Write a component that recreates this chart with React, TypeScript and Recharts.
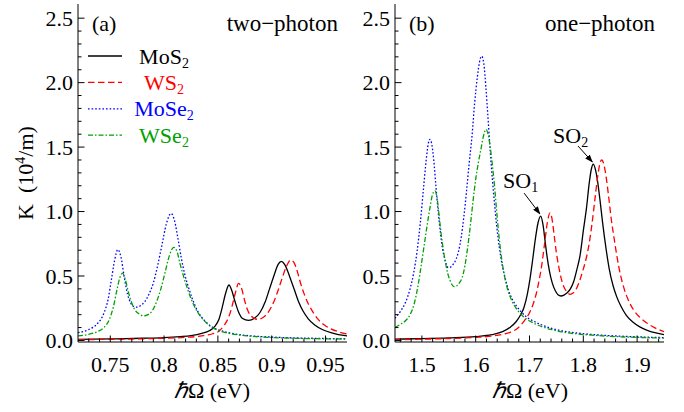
import { LineChart, Line, XAxis, YAxis, ReferenceLine } from "recharts"

const serif = '"Liberation Serif", "Times New Roman", serif'

// panel (a), two-photon: [ħΩ (eV), K (10^4/m)]
const tpMoS2: [number, number][] = [
  [0.72, 0.008], [0.75, 0.012], [0.78, 0.017], [0.8, 0.022], [0.815, 0.03], [0.825, 0.038],
  [0.835, 0.055], [0.842, 0.075], [0.847, 0.108], [0.851, 0.165], [0.854, 0.255], [0.857, 0.36],
  [0.8603, 0.43], [0.863, 0.385], [0.866, 0.3], [0.869, 0.225], [0.873, 0.17], [0.8785, 0.155],
  [0.884, 0.172], [0.889, 0.215], [0.894, 0.3], [0.898, 0.4], [0.902, 0.5], [0.906, 0.59],
  [0.909, 0.614], [0.912, 0.59], [0.915, 0.535], [0.918, 0.465], [0.921, 0.395], [0.925, 0.3],
  [0.929, 0.23], [0.934, 0.168], [0.94, 0.12], [0.947, 0.085], [0.955, 0.06], [0.962, 0.045],
  [0.97, 0.035],
]
const tpWS2: [number, number][] = [
  [0.72, 0.006], [0.75, 0.009], [0.78, 0.013], [0.8, 0.017], [0.82, 0.024], [0.835, 0.035],
  [0.845, 0.052], [0.851, 0.072], [0.856, 0.12], [0.86, 0.18], [0.863, 0.26], [0.866, 0.36],
  [0.8693, 0.443], [0.872, 0.405], [0.875, 0.305], [0.878, 0.228], [0.882, 0.182], [0.887, 0.164],
  [0.892, 0.178], [0.897, 0.222], [0.902, 0.3], [0.906, 0.39], [0.91, 0.49], [0.914, 0.58],
  [0.9177, 0.624], [0.921, 0.6], [0.924, 0.53], [0.927, 0.44], [0.93, 0.365], [0.934, 0.285],
  [0.938, 0.225], [0.943, 0.165], [0.949, 0.12], [0.955, 0.09], [0.962, 0.068], [0.97, 0.05],
]
const tpMoSe2: [number, number][] = [
  [0.72, 0.06], [0.73, 0.085], [0.738, 0.13], [0.744, 0.21], [0.748, 0.32], [0.751, 0.47],
  [0.754, 0.62], [0.757, 0.705], [0.76, 0.645], [0.763, 0.49], [0.766, 0.36], [0.769, 0.29],
  [0.772, 0.262], [0.775, 0.258], [0.778, 0.27], [0.782, 0.3], [0.786, 0.36], [0.79, 0.445],
  [0.794, 0.58], [0.798, 0.74], [0.802, 0.9], [0.8065, 0.985], [0.81, 0.92], [0.813, 0.785],
  [0.816, 0.64], [0.819, 0.52], [0.822, 0.43], [0.826, 0.33], [0.831, 0.23], [0.837, 0.16],
  [0.844, 0.108], [0.852, 0.078], [0.86, 0.06], [0.87, 0.045], [0.885, 0.033], [0.9, 0.026],
  [0.92, 0.02], [0.945, 0.016], [0.97, 0.013],
]
const tpWSe2: [number, number][] = [
  [0.72, 0.035], [0.73, 0.048], [0.738, 0.068], [0.744, 0.1], [0.749, 0.16], [0.753, 0.265],
  [0.756, 0.385], [0.759, 0.49], [0.7615, 0.522], [0.764, 0.47], [0.767, 0.37], [0.77, 0.29],
  [0.773, 0.236], [0.777, 0.205], [0.781, 0.19], [0.785, 0.2], [0.789, 0.23], [0.793, 0.3],
  [0.797, 0.4], [0.801, 0.53], [0.805, 0.66], [0.809, 0.722], [0.812, 0.69], [0.815, 0.59],
  [0.818, 0.5], [0.821, 0.42], [0.825, 0.325], [0.83, 0.235], [0.836, 0.165], [0.843, 0.11],
  [0.851, 0.076], [0.86, 0.056], [0.87, 0.042], [0.885, 0.03], [0.9, 0.023], [0.92, 0.017],
  [0.945, 0.013], [0.97, 0.011],
]

// panel (b), one-photon
const opMoS2: [number, number][] = [
  [1.45, 0.01], [1.5, 0.014], [1.55, 0.02], [1.6, 0.03], [1.63, 0.045], [1.65, 0.068],
  [1.665, 0.105], [1.675, 0.145], [1.683, 0.195], [1.69, 0.26], [1.696, 0.36], [1.701, 0.48],
  [1.706, 0.63], [1.711, 0.79], [1.716, 0.915], [1.7208, 0.965], [1.725, 0.9], [1.729, 0.77],
  [1.733, 0.64], [1.737, 0.54], [1.742, 0.45], [1.748, 0.385], [1.753, 0.355], [1.7586, 0.345],
  [1.764, 0.352], [1.77, 0.37], [1.776, 0.4], [1.782, 0.455], [1.788, 0.55], [1.794, 0.66],
  [1.8, 0.85], [1.806, 1.03], [1.811, 1.22], [1.815, 1.33], [1.8186, 1.368], [1.822, 1.335],
  [1.826, 1.25], [1.831, 1.09], [1.836, 0.91], [1.842, 0.72], [1.848, 0.56], [1.855, 0.43],
  [1.862, 0.34], [1.87, 0.265], [1.88, 0.195], [1.892, 0.143], [1.905, 0.105], [1.92, 0.077],
  [1.935, 0.058], [1.95, 0.045],
]
const opWS2: [number, number][] = [
  [1.45, 0.006], [1.5, 0.01], [1.55, 0.015], [1.6, 0.024], [1.63, 0.034], [1.65, 0.048],
  [1.665, 0.065], [1.678, 0.095], [1.69, 0.15], [1.7, 0.215], [1.707, 0.285], [1.713, 0.37],
  [1.718, 0.47], [1.723, 0.59], [1.728, 0.75], [1.733, 0.91], [1.7381, 0.99], [1.742, 0.94],
  [1.746, 0.81], [1.75, 0.68], [1.754, 0.58], [1.759, 0.48], [1.764, 0.415], [1.77, 0.375],
  [1.7753, 0.358], [1.781, 0.368], [1.787, 0.4], [1.793, 0.46], [1.799, 0.54], [1.805, 0.63],
  [1.81, 0.73], [1.816, 0.9], [1.822, 1.11], [1.827, 1.28], [1.831, 1.375], [1.8342, 1.4],
  [1.838, 1.37], [1.842, 1.28], [1.847, 1.12], [1.852, 0.94], [1.857, 0.8], [1.863, 0.64],
  [1.869, 0.51], [1.876, 0.4], [1.884, 0.31], [1.893, 0.24], [1.905, 0.18], [1.918, 0.135],
  [1.933, 0.098], [1.95, 0.068],
]
const opMoSe2: [number, number][] = [
  [1.45, 0.172], [1.46, 0.225], [1.47, 0.3], [1.478, 0.4], [1.485, 0.53], [1.491, 0.69],
  [1.497, 0.91], [1.503, 1.18], [1.508, 1.4], [1.512, 1.53], [1.515, 1.56], [1.518, 1.53],
  [1.522, 1.4], [1.526, 1.2], [1.53, 1.01], [1.534, 0.85], [1.538, 0.72], [1.542, 0.64],
  [1.546, 0.585], [1.549, 0.564], [1.553, 0.568], [1.558, 0.59], [1.563, 0.625], [1.568, 0.69],
  [1.573, 0.8], [1.578, 0.96], [1.583, 1.16], [1.588, 1.38], [1.593, 1.58], [1.598, 1.84],
  [1.603, 2.04], [1.607, 2.16], [1.611, 2.205], [1.615, 2.15], [1.619, 1.96], [1.623, 1.72],
  [1.627, 1.47], [1.631, 1.25], [1.635, 1.06], [1.639, 0.89], [1.644, 0.72], [1.649, 0.59],
  [1.655, 0.48], [1.661, 0.39], [1.668, 0.32], [1.676, 0.265], [1.685, 0.22], [1.695, 0.18],
  [1.705, 0.155], [1.72, 0.125], [1.74, 0.095], [1.76, 0.075], [1.79, 0.057], [1.82, 0.045],
  [1.86, 0.035], [1.9, 0.028], [1.95, 0.022],
]
const opWSe2: [number, number][] = [
  [1.45, 0.1], [1.46, 0.125], [1.47, 0.155], [1.478, 0.2], [1.486, 0.29], [1.493, 0.43],
  [1.499, 0.59], [1.505, 0.76], [1.51, 0.9], [1.515, 1.03], [1.519, 1.12], [1.5243, 1.161],
  [1.528, 1.11], [1.532, 0.97], [1.536, 0.82], [1.54, 0.7], [1.544, 0.6], [1.548, 0.52],
  [1.552, 0.47], [1.556, 0.432], [1.5603, 0.417], [1.565, 0.425], [1.57, 0.448], [1.575, 0.49],
  [1.58, 0.58], [1.585, 0.72], [1.59, 0.89], [1.595, 1.08], [1.6, 1.25], [1.605, 1.38],
  [1.61, 1.49], [1.6141, 1.58], [1.6191, 1.637], [1.623, 1.6], [1.627, 1.5], [1.631, 1.36],
  [1.635, 1.2], [1.639, 1.0], [1.643, 0.82], [1.648, 0.64], [1.654, 0.49], [1.66, 0.385],
  [1.667, 0.31], [1.675, 0.25], [1.685, 0.2], [1.695, 0.165], [1.705, 0.14], [1.72, 0.112],
  [1.74, 0.085], [1.76, 0.066], [1.79, 0.05], [1.82, 0.04], [1.86, 0.03], [1.9, 0.024],
  [1.95, 0.018],
]

const tpXTicks = [0.73, 0.74, 0.75, 0.76, 0.77, 0.78, 0.79, 0.8, 0.81, 0.82, 0.83, 0.84, 0.85, 0.86, 0.87, 0.88, 0.89, 0.9, 0.91, 0.92, 0.93, 0.94, 0.95, 0.96]
const tpXMajor = [0.75, 0.8, 0.85, 0.9, 0.95]
const tpXLabels = ["0.75", "0.8", "0.85", "0.9", "0.95"]
const opXTicks = [1.46, 1.48, 1.5, 1.52, 1.54, 1.56, 1.58, 1.6, 1.62, 1.64, 1.66, 1.68, 1.7, 1.72, 1.74, 1.76, 1.78, 1.8, 1.82, 1.84, 1.86, 1.88, 1.9, 1.92, 1.94]
const opXMajor = [1.5, 1.6, 1.7, 1.8, 1.9]
const opXLabels = ["1.5", "1.6", "1.7", "1.8", "1.9"]
const yTicks = [0, 0.1, 0.2, 0.3, 0.4, 0.5, 0.6, 0.7, 0.8, 0.9, 1, 1.1, 1.2, 1.3, 1.4, 1.5, 1.6, 1.7, 1.8, 1.9, 2, 2.1, 2.2, 2.3, 2.4, 2.5]
const yMajor = [0, 0.5, 1, 1.5, 2, 2.5]
const yLabels = ["0.0", "0.5", "1.0", "1.5", "2.0", "2.5"]
const yDomain = [-0.012, 2.61]

// peak arrows in panel (b): [x, y] start -> tip
const soArrows = [
  [[1.69, 1.143], [1.7195, 0.981]],
  [[1.7902, 1.508], [1.8171, 1.384]],
]

const materials = [
  { name: "MoS", color: "#000000", dash: undefined },
  { name: "WS", color: "#ff0000", dash: "6.5 3.5" },
  { name: "MoSe", color: "#0000ff", dash: "1.6 2" },
  { name: "WSe", color: "#00a000", dash: "5 2 1.5 2" },
]

const toRows = (pts: [number, number][]) => pts.map(([x, y]) => ({ x, y }))

const frameTick =
  (side: string, major: number[], labels: string[] | null, gap: number) => (props: any) => {
    const { x, y, payload } = props
    const i = major.findIndex((m) => Math.abs(m - payload.value) < 1e-9)
    const len = i >= 0 ? 6.5 : 3.5
    let mark
    if (side === "left") mark = <line x1={x + gap} x2={x + gap + len} y1={y} y2={y} stroke="#000" />
    else if (side === "right") mark = <line x1={x - gap} x2={x - gap - len} y1={y} y2={y} stroke="#000" />
    else if (side === "bottom") mark = <line x1={x} x2={x} y1={y - gap} y2={y - gap - len} stroke="#000" />
    else mark = <line x1={x} x2={x} y1={y + gap} y2={y + gap + len} stroke="#000" />
    const text =
      labels && i >= 0 ? (
        <text
          x={x}
          y={y}
          dy={side === "left" ? "0.35em" : "0.71em"}
          textAnchor={side === "left" ? "end" : "middle"}
          fontFamily={serif}
          fontSize={22}
          fill="#000"
        >
          {labels[i]}
        </text>
      ) : null
    return (
      <g>
        {mark}
        {text}
      </g>
    )
  }

function Panel(props: {
  series: [number, number][][]
  xDomain: number[]
  xTicks: number[]
  xMajor: number[]
  xLabels: string[]
  width: number
  left: number
  right: number
  arrows?: number[][][]
}) {
  const { series, xDomain, xTicks, xMajor, xLabels, width, left, right, arrows } = props
  return (
    <LineChart width={width} height={412} margin={{ top: 4, right, bottom: 30, left }}>
      <defs>
        <marker id="soHead" markerWidth="8" markerHeight="6" refX="7.5" refY="3" orient="auto" markerUnits="userSpaceOnUse">
          <path d="M0,0 L8,3 L0,6 z" fill="#000" />
        </marker>
      </defs>
      <XAxis
        xAxisId="b"
        type="number"
        dataKey="x"
        domain={xDomain}
        allowDataOverflow
        ticks={xTicks}
        interval={0}
        tickSize={0}
        tickMargin={14}
        tickLine={false}
        axisLine={{ stroke: "#000" }}
        height={40}
        tick={frameTick("bottom", xMajor, xLabels, 14)}
      />
      <XAxis
        xAxisId="t"
        orientation="top"
        type="number"
        dataKey="x"
        domain={xDomain}
        allowDataOverflow
        ticks={xTicks}
        interval={0}
        tickSize={0}
        tickMargin={0}
        tickLine={false}
        axisLine={{ stroke: "#000" }}
        height={0}
        tick={frameTick("top", xMajor, null, 0)}
      />
      <YAxis
        yAxisId="l"
        type="number"
        domain={yDomain}
        allowDataOverflow
        ticks={yTicks}
        interval={0}
        tickSize={0}
        tickMargin={5}
        tickLine={false}
        axisLine={{ stroke: "#000" }}
        width={50}
        tick={frameTick("left", yMajor, yLabels, 5)}
      />
      <YAxis
        yAxisId="r"
        orientation="right"
        type="number"
        domain={yDomain}
        allowDataOverflow
        ticks={yTicks}
        interval={0}
        tickSize={0}
        tickMargin={0}
        tickLine={false}
        axisLine={{ stroke: "#000" }}
        width={0}
        tick={frameTick("right", yMajor, null, 0)}
      />
      {series.map((pts, k) => (
        <Line
          key={materials[k].name}
          xAxisId="b"
          yAxisId="l"
          data={toRows(pts)}
          dataKey="y"
          type="monotone"
          stroke={materials[k].color}
          strokeWidth={1.3}
          strokeDasharray={materials[k].dash}
          dot={false}
          activeDot={false}
          isAnimationActive={false}
        />
      ))}
      {(arrows || []).map((a, k) => (
        <ReferenceLine
          key={k}
          xAxisId="b"
          yAxisId="l"
          segment={[
            { x: a[0][0], y: a[0][1] },
            { x: a[1][0], y: a[1][1] },
          ]}
          stroke="#000"
          strokeWidth={1}
          markerEnd="url(#soHead)"
        />
      ))}
    </LineChart>
  )
}

const legendRows = [56, 82.4, 108.8, 135.2]

export default function App() {
  return (
    <div style={{ position: "absolute", left: 0, top: 0, width: 684, height: 412, background: "#fff" }}>
      <div style={{ position: "absolute", left: 0, top: 0 }}>
        <Panel
          series={[tpMoS2, tpWS2, tpMoSe2, tpWSe2]}
          xDomain={[0.72, 0.97]}
          xTicks={tpXTicks}
          xMajor={tpXMajor}
          xLabels={tpXLabels}
          width={350}
          left={28}
          right={3}
        />
      </div>
      <div style={{ position: "absolute", left: 340, top: 0 }}>
        <Panel
          series={[opMoS2, opWS2, opMoSe2, opWSe2]}
          xDomain={[1.45, 1.95]}
          xTicks={opXTicks}
          xMajor={opXMajor}
          xLabels={opXLabels}
          width={344}
          left={5}
          right={20}
          arrows={soArrows}
        />
      </div>
      <svg
        width={684}
        height={412}
        style={{ position: "absolute", left: 0, top: 0, pointerEvents: "none" }}
        fontFamily={serif}
        fontSize={22}
      >
        <text x={92} y={31}>(a)</text>
        <text x={338} y={31} textAnchor="end" fontSize={23}>two−photon</text>
        <text x={409} y={31}>(b)</text>
        <text x={655} y={31} textAnchor="end" fontSize={23}>one−photon</text>
        {materials.map((m, k) => (
          <g key={m.name}>
            <line x1={88} x2={122} y1={legendRows[k]} y2={legendRows[k]} stroke={m.color} strokeWidth={1.3} strokeDasharray={m.dash} />
            <text x={164} y={legendRows[k] + 7.5} textAnchor="middle" fill={m.color}>
              {m.name}
              <tspan fontSize={14} dy={4}>2</tspan>
            </text>
          </g>
        ))}
        <text x={503} y={188}>
          SO<tspan fontSize={14} dy={4}>1</tspan>
        </text>
        <text x={553} y={143}>
          SO<tspan fontSize={14} dy={4}>2</tspan>
        </text>
        <text transform="translate(33,173) rotate(-90)" textAnchor="middle">
          K{"\u00a0 "}(10<tspan fontSize={14} dy={-8}>4</tspan>
          <tspan dy={8}>/m)</tspan>
        </text>
        <text x={212} y={398} textAnchor="middle">
          <tspan fontStyle="italic">ℏ</tspan>Ω (eV)
        </text>
        <text x={530} y={398} textAnchor="middle">
          <tspan fontStyle="italic">ℏ</tspan>Ω (eV)
        </text>
      </svg>
    </div>
  )
}
